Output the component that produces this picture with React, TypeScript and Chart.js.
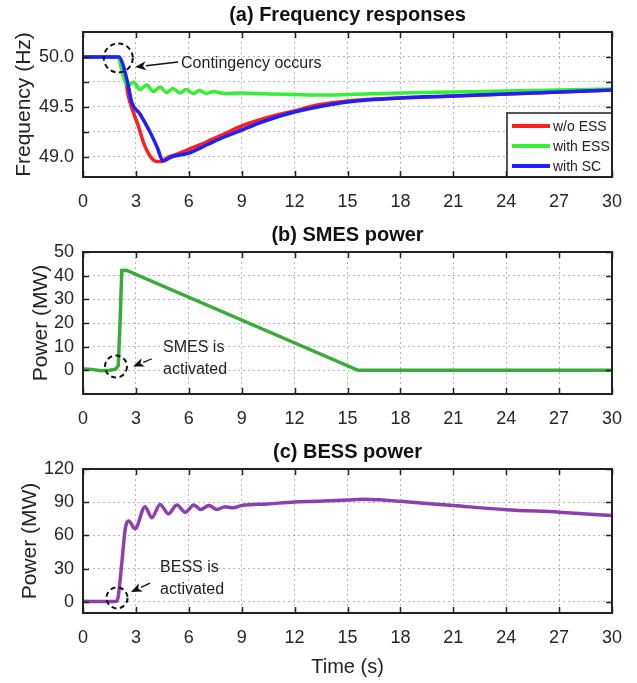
import React, { useEffect, useRef } from "react";
import { Chart, registerables } from "chart.js";

Chart.register(...registerables);

const FONT = '"Liberation Sans", Arial, Helvetica, sans-serif';

// ---------- tick values ----------
const timeTicks = [0, 3, 6, 9, 12, 15, 18, 21, 24, 27, 30];
const freqTicks = [49.0, 49.25, 49.5, 49.75, 50.0];
const smesTicks = [0, 10, 20, 30, 40, 50];
const bessTicks = [0, 30, 60, 90, 120];

// ---------- (a) frequency responses ----------
const tRed = [0, 2.0, 2.12, 2.38, 2.57, 2.85, 3.14, 3.42, 3.8, 4.18, 4.45, 4.75, 5.2, 5.9, 7, 8, 9, 10, 11, 12, 13.3, 15, 18, 21, 24, 27, 30];
const fRed = [50.0, 50.0, 49.95, 49.81, 49.61, 49.45, 49.31, 49.15, 49.01, 48.955, 48.955, 48.99, 49.02, 49.07, 49.15, 49.23, 49.31, 49.37, 49.42, 49.46, 49.52, 49.56, 49.59, 49.61, 49.63, 49.65, 49.67];

const tGreen = [0, 2.0, 2.15, 2.35, 2.55, 2.86, 3.23, 3.61, 3.99, 4.37, 4.75, 5.09, 5.5, 5.84, 6.26, 6.6, 7.0, 7.4, 8.0, 9.0, 10.5, 12, 13.5, 15, 18, 21, 24, 27, 30];
const fGreen = [50.0, 50.0, 49.9, 49.77, 49.71, 49.75, 49.675, 49.72, 49.655, 49.7, 49.645, 49.685, 49.64, 49.675, 49.635, 49.665, 49.635, 49.655, 49.635, 49.64, 49.63, 49.625, 49.62, 49.625, 49.64, 49.65, 49.66, 49.67, 49.68];

const tBlue = [0, 2.05, 2.29, 2.57, 2.76, 3.23, 3.8, 4.2, 4.55, 4.7, 5.0, 5.5, 6.0, 7, 8, 9, 10, 11, 12, 13.3, 15, 18, 21, 24, 27, 30];
const fBlue = [50.0, 50.0, 49.91, 49.71, 49.55, 49.43, 49.25, 49.1, 48.96, 48.97, 49.0, 49.02, 49.04, 49.12, 49.2, 49.27, 49.34, 49.4, 49.45, 49.5, 49.55, 49.59, 49.61, 49.63, 49.65, 49.67];

// ---------- (b) SMES power ----------
const tSmes = [0, 0.5, 1.0, 1.5, 1.85, 2.0, 2.1, 2.2, 2.45, 15.6, 30];
const pSmes = [0.6, 0.4, -0.2, 0.0, 0.5, 2, 20, 42.2, 42.3, 0, 0];

// ---------- (c) BESS power ----------
const tBess = [0, 1.0, 1.9, 2.0, 2.2, 2.38, 2.5, 2.6, 2.95, 3.52, 3.9, 4.37, 4.85, 5.32, 5.8, 6.29, 6.67, 7.14, 7.6, 8.06, 8.5, 9, 10.5, 12, 13.3, 15, 15.9, 17, 18, 21, 24, 27, 30];
const pBess = [0.5, 0.3, 0.6, 5, 35, 64, 72, 73, 66, 86, 76, 88, 79.5, 87.5, 81, 87.5, 83.5, 87, 83.5, 86, 85, 87, 88.5, 90.2, 90.8, 92, 92.8, 92, 90.8, 87, 83.3, 81, 78];

const pts = (xs: number[], ys: number[]) => xs.map((x, i) => ({ x, y: ys[i] }));

type Annot = {
  circle: { x: number; y: number; r: number };
  arrow: { x1: number; y1: number; x2: number; y2: number };
  texts: { x: number; y: number; text: string }[];
};
type LegendItem = { label: string; color: string };

function makeFrame(annot: Annot, legend?: LegendItem[]) {
  return {
    id: "matlabFrame",
    afterDatasetsDraw(chart: any) {
      const { ctx, chartArea: a } = chart;
      const xs = chart.scales.x;
      const ys = chart.scales.y;
      ctx.save();

      // inward tick marks on all four sides
      ctx.strokeStyle = "#222";
      ctx.lineWidth = 1.5;
      ctx.beginPath();
      xs.ticks.forEach((t: any) => {
        const px = Math.round(xs.getPixelForValue(t.value)) + 0.5;
        ctx.moveTo(px, a.bottom);
        ctx.lineTo(px, a.bottom - 6);
        ctx.moveTo(px, a.top);
        ctx.lineTo(px, a.top + 6);
      });
      ys.ticks.forEach((t: any) => {
        const py = Math.round(ys.getPixelForValue(t.value)) + 0.5;
        ctx.moveTo(a.left, py);
        ctx.lineTo(a.left + 6, py);
        ctx.moveTo(a.right, py);
        ctx.lineTo(a.right - 6, py);
      });
      ctx.stroke();

      // legend
      if (legend) {
        const w = 105, h = 64;
        const lx = a.right - w, ly = a.bottom - h;
        ctx.fillStyle = "#fff";
        ctx.fillRect(lx, ly, w, h);
        ctx.strokeStyle = "#222";
        ctx.lineWidth = 1.5;
        ctx.strokeRect(lx, ly, w, h);
        ctx.font = `14px ${FONT}`;
        ctx.textBaseline = "middle";
        ctx.textAlign = "left";
        legend.forEach((it, i) => {
          const y = ly + 13 + i * 20;
          ctx.strokeStyle = it.color;
          ctx.lineWidth = 4;
          ctx.beginPath();
          ctx.moveTo(lx + 5, y);
          ctx.lineTo(lx + 43, y);
          ctx.stroke();
          ctx.fillStyle = "#222";
          ctx.fillText(it.label, lx + 46, y + 1);
        });
      }

      // frame
      ctx.strokeStyle = "#222";
      ctx.lineWidth = 2;
      ctx.strokeRect(a.left, a.top, a.right - a.left, a.bottom - a.top);

      // annotations
      const c = annot.circle;
      ctx.strokeStyle = "#111";
      ctx.lineWidth = 2;
      ctx.setLineDash([5, 3.5]);
      ctx.beginPath();
      ctx.arc(xs.getPixelForValue(c.x), ys.getPixelForValue(c.y), c.r, 0, Math.PI * 2);
      ctx.stroke();
      ctx.setLineDash([]);

      const ar = annot.arrow;
      const x1 = xs.getPixelForValue(ar.x1), y1 = ys.getPixelForValue(ar.y1);
      const x2 = xs.getPixelForValue(ar.x2), y2 = ys.getPixelForValue(ar.y2);
      const ang = Math.atan2(y2 - y1, x2 - x1);
      const hl = 11, hw = 4.5;
      const bx = x2 - hl * Math.cos(ang), by = y2 - hl * Math.sin(ang);
      ctx.lineWidth = 1.3;
      ctx.beginPath();
      ctx.moveTo(x1, y1);
      ctx.lineTo(bx, by);
      ctx.stroke();
      ctx.fillStyle = "#111";
      ctx.beginPath();
      ctx.moveTo(x2, y2);
      ctx.lineTo(bx + hw * Math.sin(ang), by - hw * Math.cos(ang));
      ctx.lineTo(bx + 3 * Math.cos(ang), by + 3 * Math.sin(ang));
      ctx.lineTo(bx - hw * Math.sin(ang), by + hw * Math.cos(ang));
      ctx.closePath();
      ctx.fill();

      ctx.font = `16px ${FONT}`;
      ctx.fillStyle = "#222";
      ctx.textAlign = "left";
      ctx.textBaseline = "middle";
      annot.texts.forEach((t) => {
        ctx.fillText(t.text, xs.getPixelForValue(t.x), ys.getPixelForValue(t.y));
      });

      ctx.restore();
    },
  };
}

function makeConfig(p: {
  title: string;
  titlePad: { top: number; bottom: number };
  datasets: any[];
  yMin: number;
  yMax: number;
  yTicks: number[];
  yFmt: (v: number) => string;
  yTitle: string;
  yTitlePad: number;
  xHeight: number;
  xTitle?: string;
  annot: Annot;
  legend?: LegendItem[];
}) {
  const grid = { color: "rgba(0,0,0,0.28)", lineWidth: 1, drawTicks: false };
  return {
    type: "line" as const,
    data: { datasets: p.datasets },
    options: {
      animation: false,
      responsive: false,
      maintainAspectRatio: false,
      events: [],
      layout: { padding: { left: 0, right: 25, top: 0, bottom: 0 } },
      plugins: {
        legend: { display: false },
        tooltip: { enabled: false },
        title: {
          display: true,
          text: p.title,
          fullSize: false,
          color: "#111",
          font: { family: FONT, size: 20, weight: "bold" },
          padding: p.titlePad,
        },
      },
      scales: {
        x: {
          type: "linear",
          min: 0,
          max: 30,
          afterBuildTicks: (s: any) => {
            s.ticks = timeTicks.map((v) => ({ value: v }));
          },
          afterFit: (s: any) => {
            s.height = p.xHeight;
            s.paddingLeft = 0;
            s.paddingRight = 0;
          },
          grid,
          border: { display: false, dash: [2, 3] },
          ticks: {
            color: "#262626",
            font: { family: FONT, size: 18 },
            padding: 14,
            maxRotation: 0,
            autoSkip: false,
            callback: (v: any) => String(v),
          },
          title: p.xTitle
            ? {
                display: true,
                text: p.xTitle,
                color: "#222",
                font: { family: FONT, size: 20 },
                padding: { top: 0, bottom: 4 },
              }
            : { display: false },
        },
        y: {
          type: "linear",
          min: p.yMin,
          max: p.yMax,
          afterBuildTicks: (s: any) => {
            s.ticks = p.yTicks.map((v) => ({ value: v }));
          },
          afterFit: (s: any) => {
            s.width = 83;
            s.paddingTop = 0;
            s.paddingBottom = 0;
          },
          grid,
          border: { display: false, dash: [2, 3] },
          ticks: {
            color: "#262626",
            font: { family: FONT, size: 18 },
            padding: 9,
            autoSkip: false,
            callback: (v: any) => p.yFmt(Number(v)),
          },
          title: {
            display: true,
            text: p.yTitle,
            color: "#222",
            font: { family: FONT, size: 21 },
            padding: { top: p.yTitlePad, bottom: 0 },
          },
        },
      },
    },
    plugins: [makeFrame(p.annot, p.legend)],
  };
}

const line = (label: string, xs: number[], ys: number[], color: string, order: number, smooth = true) => ({
  label,
  data: pts(xs, ys),
  borderColor: color,
  backgroundColor: color,
  borderWidth: 3.5,
  pointRadius: 0,
  fill: false,
  tension: 0,
  cubicInterpolationMode: smooth ? "monotone" : "default",
  order,
});

const RED = "#ff1f1f";
const GREEN = "#33f033";
const BLUE = "#1f1fff";
const SMES = "#3aaa3a";
const BESS = "#8e3fae";

export default function App() {
  const refA = useRef<HTMLCanvasElement>(null);
  const refB = useRef<HTMLCanvasElement>(null);
  const refC = useRef<HTMLCanvasElement>(null);

  useEffect(() => {
    const charts: Chart[] = [];
    const cfgA = makeConfig({
      title: "(a) Frequency responses",
      titlePad: { top: 3, bottom: 5 },
      datasets: [
        line("w/o ESS", tRed, fRed, RED, 3),
        line("with ESS", tGreen, fGreen, GREEN, 2),
        line("with SC", tBlue, fBlue, BLUE, 1),
      ],
      yMin: 48.8,
      yMax: 50.25,
      yTicks: freqTicks,
      yFmt: (v) => (Math.abs(v * 2 - Math.round(v * 2)) < 1e-6 ? v.toFixed(1) : ""),
      yTitle: "Frequency (Hz)",
      yTitlePad: 12,
      xHeight: 33,
      annot: {
        circle: { x: 2.0, y: 49.99, r: 14.5 },
        arrow: { x1: 5.39, y1: 49.95, x2: 2.95, y2: 49.9 },
        texts: [{ x: 5.56, y: 49.93, text: "Contingency occurs" }],
      },
      legend: [
        { label: "w/o ESS", color: RED },
        { label: "with ESS", color: GREEN },
        { label: "with SC", color: BLUE },
      ],
    });
    const cfgB = makeConfig({
      title: "(b) SMES power",
      titlePad: { top: 13, bottom: 5 },
      datasets: [line("SMES", tSmes, pSmes, SMES, 1, false)],
      yMin: -10,
      yMax: 50,
      yTicks: smesTicks,
      yFmt: (v) => String(v),
      yTitle: "Power (MW)",
      yTitlePad: 29,
      xHeight: 36,
      annot: {
        circle: { x: 1.87, y: 1.6, r: 11 },
        arrow: { x1: 3.91, y1: 4.9, x2: 2.84, y2: 1.6 },
        texts: [
          { x: 4.54, y: 9.8, text: "SMES is" },
          { x: 4.54, y: 0.4, text: "activated" },
        ],
      },
    });
    const cfgC = makeConfig({
      title: "(c) BESS power",
      titlePad: { top: 10, bottom: 5 },
      datasets: [line("BESS", tBess, pBess, BESS, 1)],
      yMin: -10,
      yMax: 120,
      yTicks: bessTicks,
      yFmt: (v) => String(v),
      yTitle: "Power (MW)",
      yTitlePad: 18,
      xHeight: 70,
      xTitle: "Time (s)",
      annot: {
        circle: { x: 1.93, y: 3.6, r: 10.5 },
        arrow: { x1: 3.8, y1: 17, x2: 2.72, y2: 9 },
        texts: [
          { x: 4.37, y: 31.3, text: "BESS is" },
          { x: 4.37, y: 10.7, text: "activated" },
        ],
      },
    });
    if (refA.current) charts.push(new Chart(refA.current, cfgA as any));
    if (refB.current) charts.push(new Chart(refB.current, cfgB as any));
    if (refC.current) charts.push(new Chart(refC.current, cfgC as any));
    return () => charts.forEach((c) => c.destroy());
  }, []);

  const cv = (top: number, h: number, ref: any) => (
    <canvas
      ref={ref}
      width={637}
      height={h}
      style={{ position: "absolute", left: 0, top, width: 637, height: h, display: "block" }}
    />
  );

  return (
    <div style={{ position: "fixed", left: 0, top: 0, width: 637, height: 683, background: "#fff" }}>
      {cv(0, 210, refA)}
      {cv(210, 220, refB)}
      {cv(430, 253, refC)}
    </div>
  );
}
